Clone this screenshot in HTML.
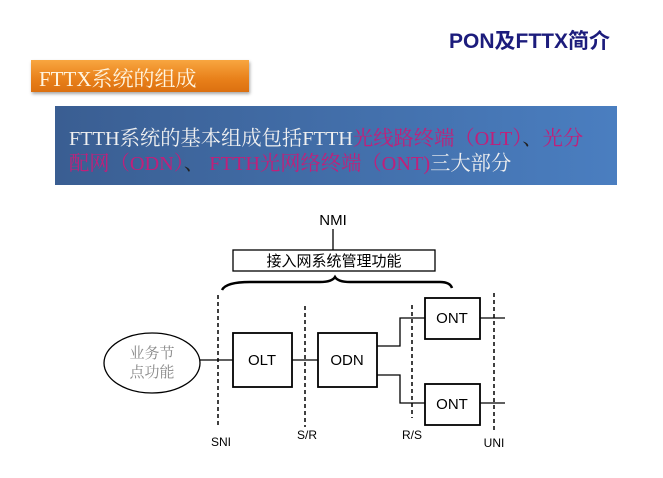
<!DOCTYPE html>
<html><head><meta charset="utf-8"><style>
body{margin:0;width:663px;height:478px;background:#fff;position:relative;overflow:hidden;font-family:"Liberation Sans","Noto Sans CJK SC",sans-serif}
.title{position:absolute;left:449px;top:25px;font-size:21px;font-weight:bold;color:#1c1c7c;white-space:nowrap}
.tab{position:absolute;left:31px;top:60px;width:218px;height:32px;background:linear-gradient(#f8a640,#e8801a 60%,#dc7010);box-shadow:1px 2px 3px rgba(0,0,0,.35)}
.tab span{position:absolute;left:8px;top:3px;font-family:"Liberation Serif","Noto Serif CJK SC",serif;font-size:21px;color:#fff5e0;white-space:nowrap}
.blue{position:absolute;left:55px;top:106px;width:562px;height:79px;background:linear-gradient(90deg,#3a5e92,#4a7ec0)}
.blue div{position:absolute;left:14px;font-family:"Liberation Serif","Noto Serif CJK SC",serif;font-size:20.3px;color:#f0f0f0;white-space:nowrap;line-height:26px}
.m{color:#c0207a}
.d{color:#222}
</style></head><body>
<div class="title">PON及FTTX简介</div>
<div class="tab"><span>FTTX系统的组成</span></div>
<div class="blue">
<div style="top:20px">FTTH系统的基本组成包括FTTH<span class="m">光线路终端（OLT）</span><span class="d">、</span><span class="m">光分</span></div>
<div style="top:45px"><span class="m">配网（ODN）</span><span class="d">、 </span><span class="m">FTTH光网络终端（ONT)</span>三大部分</div>
</div>
<svg width="663" height="478" style="position:absolute;left:0;top:0" font-family="Liberation Sans, Noto Sans CJK SC, sans-serif">
<text x="333" y="225" font-size="15" text-anchor="middle">NMI</text>
<line x1="333" y1="229" x2="333" y2="250" stroke="#000" stroke-width="1.3"/>
<rect x="233" y="250" width="202" height="21" fill="#fff" stroke="#000" stroke-width="1.3"/>
<text x="334" y="266" font-size="15" text-anchor="middle">接入网系统管理功能</text>
<path d="M222 290 Q226 282 250 282 L320 282 Q332 282 335 277 Q338 282 350 282 L440 282 Q450 282 452 288" fill="none" stroke="#000" stroke-width="2.5"/>
<g stroke="#000" stroke-width="1.5" stroke-dasharray="4,3">
<line x1="218" y1="295" x2="218" y2="426"/>
<line x1="305" y1="306" x2="305" y2="427"/>
<line x1="412" y1="305" x2="412" y2="418"/>
<line x1="494" y1="293" x2="494" y2="430"/>
</g>
<ellipse cx="152" cy="363" rx="48" ry="30" fill="#fff" stroke="#000" stroke-width="1.3"/>
<text x="152" y="358" font-size="15" text-anchor="middle" fill="#888" font-family="Liberation Serif, Noto Serif CJK SC, serif">业务节</text>
<text x="152" y="377" font-size="15" text-anchor="middle" fill="#888" font-family="Liberation Serif, Noto Serif CJK SC, serif">点功能</text>
<g stroke="#000" stroke-width="1.3" fill="none">
<line x1="200" y1="360" x2="233" y2="360"/>
<line x1="292" y1="360" x2="318" y2="360"/>
<polyline points="377,346 400,346 400,318 425,318"/>
<polyline points="377,375 400,375 400,403 425,403"/>
<line x1="480" y1="318" x2="505" y2="318"/>
<line x1="480" y1="403" x2="505" y2="403"/>
</g>
<g fill="#fff" stroke="#000" stroke-width="1.8">
<rect x="233" y="333" width="59" height="54"/>
<rect x="318" y="333" width="59" height="54"/>
<rect x="425" y="298" width="55" height="41"/>
<rect x="425" y="384" width="55" height="41"/>
</g>
<g font-size="15" text-anchor="middle">
<text x="262" y="365">OLT</text>
<text x="347" y="365">ODN</text>
<text x="452" y="323">ONT</text>
<text x="452" y="409">ONT</text>
</g>
<g font-size="12" text-anchor="middle">
<text x="221" y="446">SNI</text>
<text x="307" y="439">S/R</text>
<text x="412" y="439">R/S</text>
<text x="494" y="447">UNI</text>
</g>
</svg>
</body></html>
